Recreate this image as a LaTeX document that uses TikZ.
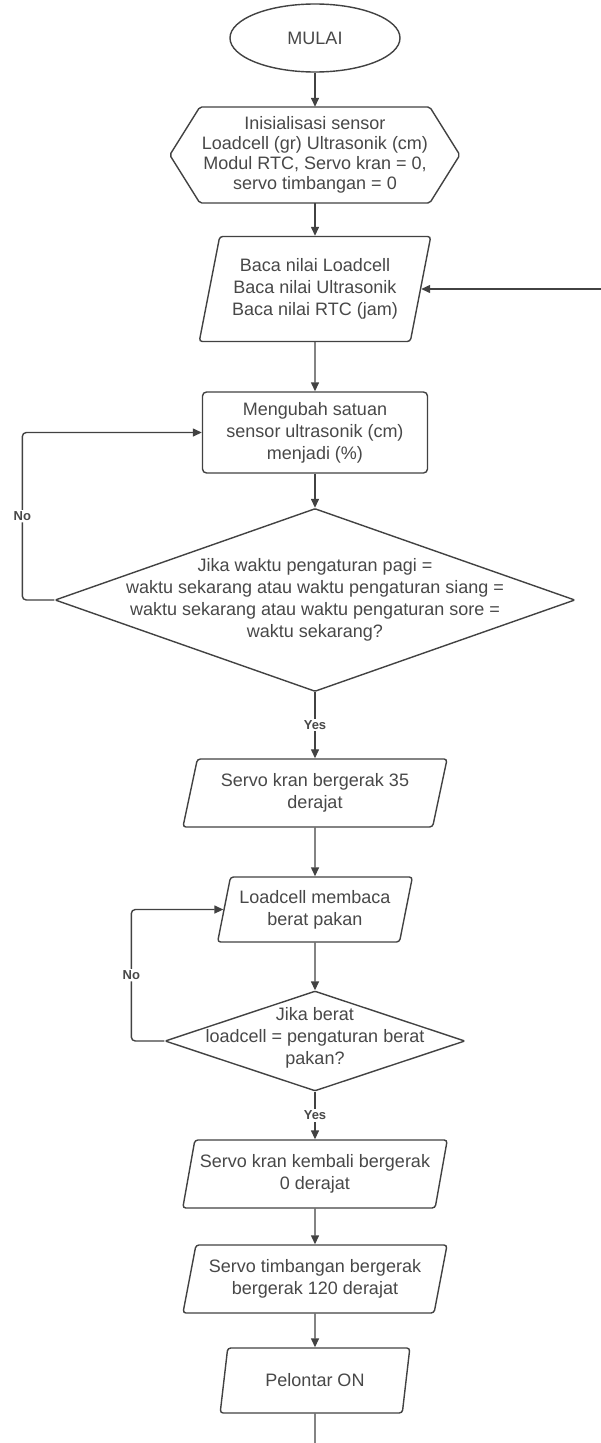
\documentclass[tikz,border=0pt]{standalone}
\usepackage{fontspec}
\setmainfont{Liberation Sans}
\usetikzlibrary{shapes.geometric,arrows.meta}
\definecolor{ink}{RGB}{66,66,66}
\definecolor{txt}{RGB}{72,72,72}

\begin{document}
\begin{tikzpicture}[x=1pt,y=-1pt,
    every node/.style={font=\fontsize{18}{22}\selectfont,text=txt},
    flow/.style={draw=ink,line width=1.4pt},
    io/.style={flow,trapezium,trapezium left angle=74,trapezium right angle=106,
        trapezium stretches=true,rounded corners=3pt,align=center,inner sep=1pt},
    proc/.style={flow,rectangle,rounded corners=4pt,align=center},
    test/.style={flow,diamond,inner sep=0pt,rounded corners=1pt},
    arr/.style={draw=ink,line width=1.4pt,-{Triangle[length=9pt,width=8pt]}},
    tag/.style={font=\fontsize{13}{15}\selectfont\bfseries,fill=white,inner sep=1.5pt}]
\useasboundingbox[fill=white] (0,0) rectangle (601,1443);

\node (mulai) at (315,38) [flow,ellipse,minimum width=170pt,minimum height=68pt] {MULAI};
\node (init) at (315,155) [minimum width=290pt,minimum height=96pt,align=center,
    font=\fontsize{18}{20}\selectfont] {Inisialisasi sensor\\Loadcell (gr) Ultrasonik (cm)\\
    Modul RTC, Servo kran = 0,\\servo timbangan = 0};
\draw[flow,rounded corners=2pt] (init.west) -- ++(30,-48) -- ++(230,0) -- ++(30,48)
    -- ++(-30,48) -- ++(-230,0) -- cycle;
\node (baca) at (315,289) [io,minimum width=232pt,minimum height=105pt]
    {Baca nilai Loadcell\\Baca nilai Ultrasonik\\Baca nilai RTC (jam)};
\node (ubah) at (315,432.5) [proc,minimum width=225pt,minimum height=81pt]
    {Mengubah satuan\\sensor ultrasonik (cm)\\menjadi (\%)};
\node (cek1) at (315,600) [test,minimum width=520pt,minimum height=183pt,
    label={[align=center]center:Jika waktu pengaturan pagi =\\
    waktu sekarang atau waktu pengaturan siang =\\
    waktu sekarang atau waktu pengaturan sore =\\waktu sekarang?}] {};
\node (kran) at (315,793) [io,minimum width=265pt,minimum height=68pt]
    {Servo kran bergerak 35\\derajat};
\node (berat) at (315,909.5) [io,minimum width=195pt,minimum height=65pt]
    {Loadcell membaca\\berat pakan};
\node (cek2) at (315,1041) [test,minimum width=300pt,minimum height=100pt,
    label={[align=center,yshift=3pt]center:Jika berat\\loadcell = pengaturan berat\\pakan?}] {};
\node (balik) at (315,1174) [io,minimum width=265pt,minimum height=68pt]
    {Servo kran kembali bergerak\\0 derajat};
\node (timbang) at (315,1279) [io,minimum width=265pt,minimum height=68pt]
    {Servo timbangan bergerak\\bergerak 120 derajat};
\node (lontar) at (315,1380.5) [io,minimum width=190pt,minimum height=65pt] {Pelontar ON};
\coordinate (ulang) at (601,289);
\coordinate (akhir) at (315,1443);

\draw[arr] (mulai) -- (init);
\draw[arr] (init) -- (baca);
\draw[arr] (ulang) -- (baca);
\draw[arr] (baca) -- (ubah);
\draw[arr] (ubah) -- (cek1);
\draw[arr,rounded corners=4pt] (cek1.west) -- ++(-32,0) |- node[tag,pos=.25] {No} (ubah.west);
\draw[arr] (cek1) -- node[tag] {Yes} (kran);
\draw[arr] (kran) -- (berat);
\draw[arr] (berat) -- (cek2);
\draw[arr,rounded corners=4pt] (cek2.west) -- ++(-33,0) |- node[tag,pos=.25] {No} (berat.west);
\draw[arr] (cek2) -- node[tag] {Yes} (balik);
\draw[arr] (balik) -- (timbang);
\draw[arr] (timbang) -- (lontar);
\draw[flow] (lontar) -- (akhir);
\end{tikzpicture}
\end{document}
